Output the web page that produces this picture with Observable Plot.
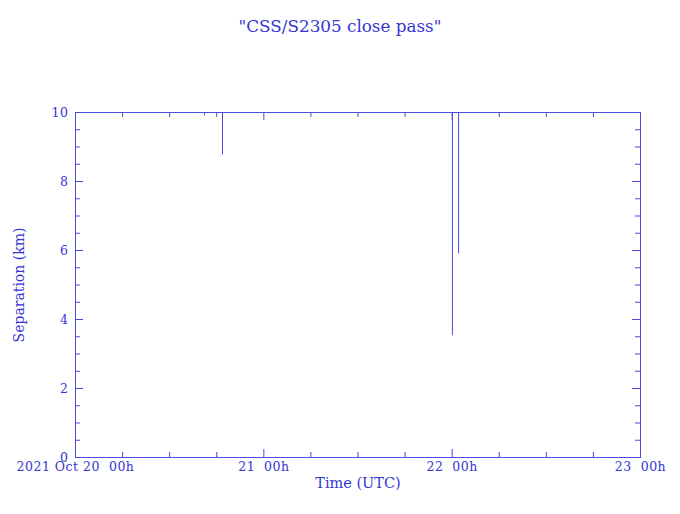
<!DOCTYPE html>
<html>
<head>
<meta charset="utf-8">
<script src="https://cdn.jsdelivr.net/npm/d3@7"></script>
<script src="https://cdn.jsdelivr.net/npm/@observablehq/plot@0.6"></script>
<style>
  html, body { margin: 0; padding: 0; background: #ffffff; }
  #title { width: 680px; height: 60px; box-sizing: border-box; padding-top: 16px; text-align: center;
           font-family: "DejaVu Serif", serif; font-size: 16.8px; line-height: 20px; color: #3535d0; }
  [aria-label$="tick label"] text { letter-spacing: 0.5px; }
</style>
</head>
<body>
<div id="title">"CSS/S2305 close pass"</div>
<div id="chart"></div>
<script>
// ---- data ----
const timeDomain = ["2021-10-20T00:00Z", "2021-10-23T00:00Z"];
const sepDomain = [0, 10];
// close-approach dips below the 10 km plot ceiling
const eventTimes = ["2021-10-20T16:26Z", "2021-10-20T18:44Z", "2021-10-22T00:02Z", "2021-10-22T00:49Z"];
const minSeparations = [9.9, 8.77, 3.53, 5.9];
// axis ticks / labels
const xMajorTicks = ["2021-10-20T00:00Z", "2021-10-21T00:00Z", "2021-10-22T00:00Z", "2021-10-23T00:00Z"];
const xTickLabels = ["2021 Oct 20  00h", "21  00h", "22  00h", "23  00h"];
const yMajorTicks = [0, 2, 4, 6, 8, 10];
const yMinorStep = 0.5;
const xMinorStepHours = 6;

// ---- build ----
const parse = (s) => new Date(s);
const events = eventTimes.map((t, i) => ({time: parse(t), sep: minSeparations[i]}));
const xDom = timeDomain.map(parse);
const xMajor = xMajorTicks.map(parse);
const xMinor = d3.utcHour.every(xMinorStepHours).range(xDom[0], xDom[1])
  .filter(d => !xMajor.some(m => +m === +d));
const yMinor = d3.range(sepDomain[0], sepDomain[1] + 1e-9, yMinorStep)
  .filter(v => !yMajorTicks.includes(v));
const labelFor = new Map(xMajor.map((d, i) => [+d, xTickLabels[i].replace(/ /g, "\u00a0")]));

const W = 680, H = 454;
const mT = 52, mB = 57, mL = 75, mR = 40;
const FW = W - mL - mR, FH = H - mT - mB;
const lineColor = "#4b4bdf";
const textColor = "#3535d0";
const majorLen = 8, minorLen = 5;

const chart = Plot.plot({
  width: W, height: H,
  marginTop: mT, marginBottom: mB, marginLeft: mL, marginRight: mR,
  style: {color: textColor, fontFamily: "'DejaVu Serif', serif", fontSize: "12.5px", background: "#ffffff"},
  x: {type: "utc", domain: xDom},
  y: {domain: sepDomain},
  marks: [
    Plot.frame({stroke: lineColor, strokeWidth: 1}),
    // bottom ticks (inward)
    Plot.ruleX(xMajor, {x: d => d, insetTop: FH - majorLen, stroke: lineColor, strokeWidth: 1}),
    Plot.ruleX(xMinor, {x: d => d, insetTop: FH - minorLen, stroke: lineColor, strokeWidth: 1}),
    // top ticks
    Plot.ruleX(xMajor, {x: d => d, insetBottom: FH - majorLen, stroke: lineColor, strokeWidth: 1}),
    Plot.ruleX(xMinor, {x: d => d, insetBottom: FH - minorLen, stroke: lineColor, strokeWidth: 1}),
    // left ticks
    Plot.ruleY(yMajorTicks, {y: d => d, insetRight: FW - majorLen, stroke: lineColor, strokeWidth: 1}),
    Plot.ruleY(yMinor, {y: d => d, insetRight: FW - minorLen, stroke: lineColor, strokeWidth: 1}),
    // right ticks
    Plot.ruleY(yMajorTicks, {y: d => d, insetLeft: FW - majorLen, stroke: lineColor, strokeWidth: 1}),
    Plot.ruleY(yMinor, {y: d => d, insetLeft: FW - minorLen, stroke: lineColor, strokeWidth: 1}),
    // tick labels
    Plot.axisX({ticks: xMajor, tickSize: 0, tickPadding: 5, tickFormat: d => labelFor.get(+d), label: null, fill: textColor, fontSize: 12.5}),
    Plot.axisY({ticks: yMajorTicks, tickSize: 0, tickPadding: 7, tickFormat: d => String(d), label: null, fill: textColor, fontSize: 12.5}),
    // axis titles
    Plot.text(["Time (UTC)"], {frameAnchor: "bottom", dy: 30, fill: textColor, fontSize: 14.5}),
    Plot.text(["Separation (km)"], {frameAnchor: "left", textAnchor: "middle", dx: -56, rotate: -90, fill: textColor, fontSize: 14}),
    // close-approach dips
    Plot.ruleX(events, {x: "time", y1: "sep", y2: () => sepDomain[1], stroke: lineColor, strokeWidth: 1})
  ]
});
document.getElementById("chart").appendChild(chart);
</script>
</body>
</html>
